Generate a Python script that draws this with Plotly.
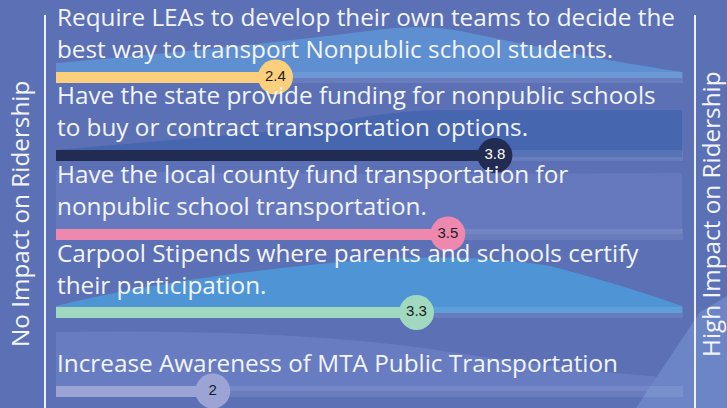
import plotly.graph_objects as go

# ---- data -------------------------------------------------------------
labels = [
    "Require LEAs to develop their own teams to decide the<br>best way to transport Nonpublic school students.",
    "Have the state provide funding for nonpublic schools<br>to buy or contract transportation options.",
    "Have the local county fund transportation for<br>nonpublic school transportation.",
    "Carpool Stipends where parents and schools certify<br>their participation.",
    "Increase Awareness of MTA Public Transportation",
]
scores = [2.4, 3.8, 3.5, 3.3, 2]
bar_colors = ["#fbcf7b", "#222b51", "#ef88ae", "#a0d9bf", "#9ba4d5"]
value_text_colors = ["#1d1d1f", "#ffffff", "#1d1d1f", "#1d1d1f", "#1d1d1f"]
scale_min, scale_max = 1, 5
low_label = "No Impact on Ridership"
high_label = "High Impact on Ridership"

# ---- geometry ---------------------------------------------------------
W, H = 727, 408
BG = "#5b70b5"
TEXT_FONT = "Open Sans"
LABEL_SIZE = 24.3
rows = list(range(len(labels)))

# horizontal scale: scale_min sits at px 56, scale_max at px 683
ppu = (683 - 56) / (scale_max - scale_min)
x_range = [scale_min - 56 / ppu, scale_max + (W - 683) / ppu]
# rows: first row centre at px 77, pitch 78.5 px
row_top, row_pitch = 77, 78.5
y_range = [(H - row_top) / row_pitch, -row_top / row_pitch]
bar_w = 11 / row_pitch


def px_path(cmds):
    """Build an SVG path in paper units from pixel coordinates."""
    out = []
    for c in cmds:
        op, pts = c[0], c[1:]
        coords = " ".join(f"{x / W:.5f},{1 - y / H:.5f}" for x, y in pts)
        out.append(f"{op}{coords}" if pts else op)
    return " ".join(out)


def bg_shape(cmds, color):
    return dict(type="path", xref="paper", yref="paper", layer="below",
                path=px_path(cmds), fillcolor=color, line=dict(width=0))


shapes = [
    # pale blue swell behind the first item
    bg_shape([("M", (56, 78)), ("L", (56, 63)), ("Q", (250, 46), (360, 32)),
              ("Q", (425, 22), (470, 33)), ("Q", (600, 60), (682, 72)),
              ("L", (682, 78)), ("Z",)], "#5e8fd1"),
    # deeper blue band behind the second item
    bg_shape([("M", (56, 157)), ("L", (56, 150)), ("L", (310, 128)),
              ("Q", (380, 111), (440, 110)), ("L", (682, 110)),
              ("L", (682, 157)), ("Z",)], "#4666b0"),
    # soft lavender block behind the third item
    bg_shape([("M", (56, 234)), ("L", (56, 170)), ("Q", (300, 176), (682, 173)),
              ("L", (682, 234)), ("Z",)], "#6679be"),
    # bright blue hill behind the fourth item
    bg_shape([("M", (56, 313)), ("L", (56, 306)), ("Q", (160, 280), (320, 264)),
              ("Q", (450, 250), (550, 266)), ("Q", (620, 284), (682, 306)),
              ("L", (682, 313)), ("Z",)], "#4f95d6"),
    # lavender wedge behind the fifth item
    bg_shape([("M", (56, 391)), ("L", (56, 332)), ("Q", (300, 328), (450, 352)),
              ("Q", (600, 374), (682, 378)), ("L", (682, 391)), ("Z",)], "#687cc2"),
    # light corner at the bottom right
    bg_shape([("M", (636, 408)), ("L", (700, 312)), ("L", (727, 296)),
              ("L", (727, 408)), ("Z",)], "#6b85c7"),
    # frame lines
    dict(type="line", xref="paper", yref="paper", x0=45 / W, x1=45 / W,
         y0=1 - 15 / H, y1=0, line=dict(color="#eef1fa", width=2)),
    dict(type="line", xref="paper", yref="paper", x0=695 / W, x1=695 / W,
         y0=1 - 15 / H, y1=0, line=dict(color="#eef1fa", width=2)),
]

fig = go.Figure()

# full-scale tracks
fig.add_trace(go.Bar(
    orientation="h", y=rows, x=[scale_max - scale_min] * len(rows), base=scale_min,
    width=bar_w, marker=dict(color="rgba(255,255,255,0.09)", line=dict(width=0)),
    hoverinfo="skip", showlegend=False))

# score bars
fig.add_trace(go.Bar(
    orientation="h", y=rows, x=[s - scale_min for s in scores], base=scale_min,
    width=bar_w, marker=dict(color=bar_colors, line=dict(width=0)),
    hoverinfo="skip", showlegend=False))

# score bubbles
fig.add_trace(go.Scatter(
    x=scores, y=rows, mode="markers+text",
    text=[f"{s:g}" for s in scores], textposition="middle center",
    textfont=dict(family="Liberation Sans, Arial", size=15, color=value_text_colors),
    marker=dict(size=35, color=bar_colors, line=dict(width=0)),
    hoverinfo="skip", showlegend=False, cliponaxis=False))

annotations = []
for i, lab in enumerate(labels):
    annotations.append(dict(
        x=scale_min, y=i, xref="x", yref="y", text=lab, showarrow=False,
        xanchor="left", yanchor="bottom", align="left", yshift=11, borderpad=0,
        font=dict(family=TEXT_FONT, size=LABEL_SIZE, color="#f3f5fc")))

annotations += [
    dict(x=19 / W, y=1 - 214 / H, xref="paper", yref="paper", text=low_label,
         textangle=-90, showarrow=False, xanchor="center", yanchor="middle",
         font=dict(family=TEXT_FONT, size=LABEL_SIZE, color="#f3f5fc")),
    dict(x=710 / W, y=1 - 214 / H, xref="paper", yref="paper", text=high_label,
         textangle=-90, showarrow=False, xanchor="center", yanchor="middle",
         font=dict(family=TEXT_FONT, size=LABEL_SIZE, color="#f3f5fc")),
]

fig.update_layout(
    width=W, height=H, margin=dict(l=0, r=0, t=0, b=0),
    paper_bgcolor=BG, plot_bgcolor="rgba(0,0,0,0)",
    barmode="overlay", bargap=0,
    xaxis=dict(range=x_range, visible=False, fixedrange=True),
    yaxis=dict(range=y_range, visible=False, fixedrange=True),
    shapes=shapes, annotations=annotations,
)

fig.write_html("out.html")
